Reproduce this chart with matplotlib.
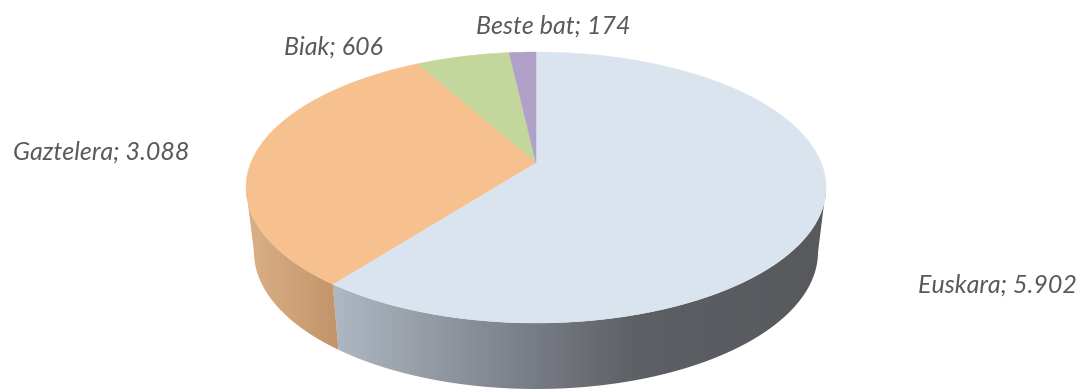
import numpy as np
import matplotlib
matplotlib.use('Agg')
import matplotlib.pyplot as plt
from matplotlib.path import Path
from matplotlib.patches import PathPatch, Polygon
from matplotlib.colors import LinearSegmentedColormap

## data
labels = ['Euskara', 'Gaztelera', 'Biak', 'Beste bat']
values = [5902, 3088, 606, 174]
value_text = ['5.902', '3.088', '606', '174']

top_colors = ['#DAE4EF', '#F7C08F', '#C3D69B', '#B1A0C7']
label_pos = [(1077, 285), (189, 152), (383, 47), (630, 26)]

## geometry of the tilted pie, in pixels
cx, cy, rx, ry = 536, 187.5, 290, 135.5
bx, by, brx, bry = 536, 252, 282, 137
a = 0.185  # apex sits above the ellipse centre (perspective)


def rim(f):
    # fraction of the pie (clockwise from 12 o'clock) -> point on unit ellipse
    th = 2 * np.pi * np.asarray(f)
    x, y = np.sin(th), np.cos(th)
    d = 1 + a * y
    return x * np.sqrt(1 - a ** 2) / d, (y + a) / d


fig = plt.figure(figsize=(10.78, 3.89), dpi=100)
ax = fig.add_axes([0, 0, 1, 1])
ax.axis('off')

cum = np.concatenate([[0], np.cumsum(values)]) / np.sum(values)

# side walls, only the front half of the rim shows
side_stops = [
    ([333, 540, 640, 826], ['#AEB8C3', '#767A82', '#5C5F64', '#57595D']),
    ([246, 338], ['#DBB088', '#C39469']),
]
for i in range(2):
    f = np.linspace(cum[i], cum[i + 1], 400)
    ux, uy = rim(f)
    keep = uy <= 0
    ux, uy = ux[keep], uy[keep]
    upper = np.column_stack([cx + rx * ux, cy - ry * uy])
    lower = np.column_stack([bx + brx * ux, by - bry * uy])
    poly = np.vstack([upper, lower[::-1]])
    xs, cols = side_stops[i]
    xmin, xmax = xs[0], xs[-1]
    stops = [(x - xmin) / (xmax - xmin) for x in xs]
    cmap = LinearSegmentedColormap.from_list('side%d' % i, list(zip(stops, cols)))
    im = ax.imshow(np.linspace(0, 1, 256)[None, :], cmap=cmap, aspect='auto',
                   extent=[xmin, xmax, 389, 0], zorder=1)
    clip = Polygon(poly, closed=True, transform=ax.transData, fc='none', ec='none')
    ax.add_patch(clip)
    im.set_clip_path(clip)

# top surface
apex = (cx, cy - ry * a)
for i in range(len(values)):
    ux, uy = rim(np.linspace(cum[i], cum[i + 1], 400))
    pts = np.column_stack([cx + rx * ux, cy - ry * uy])
    verts = np.vstack([[apex], pts, [apex]])
    codes = [Path.MOVETO] + [Path.LINETO] * (len(verts) - 2) + [Path.CLOSEPOLY]
    ax.add_patch(PathPatch(Path(verts, codes), fc=top_colors[i], ec=top_colors[i],
                           lw=0.3, zorder=2))

# data labels
for i in range(len(labels)):
    ax.text(label_pos[i][0], label_pos[i][1], labels[i] + '; ' + value_text[i],
            ha='right', va='center', fontsize=18, style='italic',
            family='Lato', color='#595959', zorder=3)

ax.set_xlim(0, 1078)
ax.set_ylim(389, 0)
fig.savefig('out.png', dpi=100, facecolor='white')
